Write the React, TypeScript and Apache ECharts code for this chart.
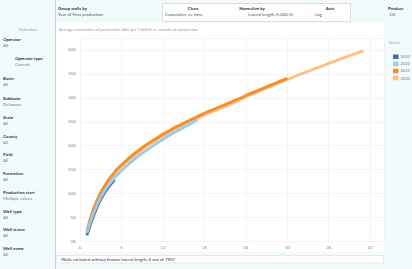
import React, { useEffect, useRef } from "react";
import * as echarts from "echarts";

// ---- data (cumulative oil per 1,000 ft, bbl) ----
const SERIES_NAMES = ["2023", "2022", "2021", "2020"];
const SERIES_COLORS = ["#3f6fa8", "#a0cbe8", "#f28e2b", "#ffbe7d"];
const MONTHS = [
  1, 2, 3, 4, 5, 6, 7, 8, 9, 10, 11, 12, 13, 14, 15, 16, 17, 18, 19, 20, 21,
  22, 23, 24, 25, 26, 27, 28, 29, 30, 31, 32, 33, 34, 35, 36, 37, 38, 39, 40, 41,
];
const V2023 = [1300, 5500, 8800, 11100, 12900];
const V2022 = [
  1800, 6000, 9200, 11500, 13300, 14800, 16100, 17300, 18400, 19400, 20400,
  21300, 22200, 23000, 23800, 24600, 25400,
];
const V2021 = [
  2200, 7000, 10200, 12600, 14500, 16000, 17300, 18500, 19600, 20600, 21500,
  22400, 23200, 24000, 24700, 25400, 26100, 26800, 27400, 28000, 28600, 29200,
  29800, 30500, 31100, 31700, 32300, 32900, 33500, 34100,
];
const V2020 = [
  1900, 6600, 9800, 12200, 14100, 15600, 16900, 18100, 19200, 20200, 21100,
  22000, 22800, 23600, 24300, 25000, 25700, 26400, 27000, 27600, 28200, 28800,
  29500, 30200, 30800, 31400, 32000, 32600, 33200, 33800, 34400, 35000, 35500,
  36100, 36600, 37200, 37700, 38300, 38800, 39300, 39800,
];
const X_TICKS = [0, 6, 12, 18, 24, 30, 36, 42];
const Y_TICKS = [0, 5000, 10000, 15000, 20000, 25000, 30000, 35000, 40000];

const FILTERS: [string, string, number][] = [
  ["Operator", "All", 3],
  ["Operator type", "Current", 15],
  ["Basin", "All", 3],
  ["Subbasin", "Delaware", 3],
  ["State", "All", 3],
  ["County", "All", 3],
  ["Field", "All", 3],
  ["Formation", "All", 3],
  ["Production start", "Multiple values", 3],
  ["Well type", "All", 3],
  ["Well status", "All", 3],
  ["Well name", "All", 3],
];
const FILTER_Y = [39, 58, 78, 98, 117, 136, 154, 173, 192, 211, 229, 248];

const FONT = "Lato, 'Open Sans', sans-serif";
const FS = 4.4;

function txt(
  text: string,
  x: number,
  y: number,
  opts: { fill?: string; bold?: boolean; align?: string; size?: number } = {}
) {
  return {
    type: "text",
    x,
    y,
    silent: true,
    z: 5,
    style: {
      text,
      fill: opts.fill || "#555",
      fontSize: opts.size || FS,
      fontFamily: FONT,
      fontWeight: opts.bold ? "bold" : "normal",
      align: opts.align || "left",
      verticalAlign: "middle",
    },
  };
}

export default function App() {
  const ref = useRef<HTMLDivElement>(null);
  useEffect(() => {
    if (!ref.current) return;
    const chart = echarts.init(ref.current, undefined, { renderer: "svg" });
    const values = [V2023, V2022, V2021, V2020];

    const graphics: any[] = [
      {
        type: "rect",
        z: -10,
        silent: true,
        shape: { x: 56, y: 23, width: 328, height: 229 },
        style: { fill: "#ffffff" },
      },
      {
        type: "line",
        z: 1,
        silent: true,
        shape: { x1: 55.5, y1: 0, x2: 55.5, y2: 269 },
        style: { stroke: "#c9d2d4", lineWidth: 1 },
      },
      {
        type: "rect",
        z: 1,
        silent: true,
        shape: { x: 162.5, y: 3.5, width: 188, height: 18 },
        style: { fill: "#ffffff", stroke: "#c8c8c8", lineWidth: 0.6 },
      },
      {
        type: "rect",
        z: 1,
        silent: true,
        shape: { x: 56.5, y: 255.5, width: 327, height: 7.5 },
        style: { fill: "#ffffff", stroke: "#d6dcdd", lineWidth: 0.6 },
      },
      txt("Group wells by", 58, 8.5, { bold: true, fill: "#333" }),
      txt("Year of First production", 58, 14.5, { fill: "#555" }),
      txt("Chart", 193, 8.5, { bold: true, fill: "#333", align: "center" }),
      txt("Cumulative vs. time", 165, 14.5),
      txt("Normalize by", 252, 8.5, { bold: true, fill: "#333", align: "center" }),
      txt("Lateral length (5,000 ft)", 248, 14.5),
      txt("Axis", 330, 8.5, { bold: true, fill: "#333", align: "center" }),
      txt("Log", 315, 14.5),
      txt("Product", 388, 8.5, { bold: true, fill: "#333" }),
      txt("Oil", 389.5, 14.5),
      txt(
        "Average cumulative oil production [bbl] per 1,000 ft vs. months on production",
        59,
        29,
        { fill: "#999", size: 4.1 }
      ),
      txt("Selection", 28, 29.5, { fill: "#999", align: "center" }),
      txt("Select", 389, 42.3, { fill: "#999", size: 4.1 }),
      txt("Wells excluded without known lateral length: 4 out of 7907", 61, 259.3, {
        fill: "#333",
      }),
    ];
    FILTERS.forEach(([label, value, x], i) => {
      graphics.push(txt(label, x, FILTER_Y[i], { bold: true, fill: "#333" }));
      graphics.push(txt(value, x, FILTER_Y[i] + 6.2, { fill: "#777" }));
    });

    // draw order: 2020, 2021, 2023, 2022 (light blue on top)
    const drawOrder = [3, 2, 0, 1];
    const series = drawOrder.map((i, k) => ({
      name: SERIES_NAMES[i],
      type: "line",
      smooth: 0.4,
      showSymbol: false,
      symbol: "none",
      data: values[i].map((v, j) => [MONTHS[j], v]),
      lineStyle: { width: 2.8, color: SERIES_COLORS[i] },
      itemStyle: { color: SERIES_COLORS[i] },
      z: 3 + k,
    }));

    chart.setOption({
      animation: false,
      backgroundColor: "#f1fbfc",
      textStyle: { fontFamily: FONT },
      grid: { left: 80, right: 28, top: 38, bottom: 27.5, containLabel: false },
      xAxis: {
        type: "value",
        min: 0,
        max: 44,
        interval: 6,
        axisLine: { show: false },
        axisTick: { show: false },
        splitLine: { show: true, lineStyle: { color: "#ececec", width: 0.6 } },
        axisLabel: {
          fontSize: FS,
          color: "#888",
          margin: 4,
          showMaxLabel: false,
          formatter: (v: number) => (X_TICKS.includes(v) ? String(v) : ""),
        },
      },
      yAxis: {
        type: "value",
        min: 0,
        max: 42500,
        interval: 5000,
        axisLine: { show: false },
        axisTick: { show: false },
        splitLine: { show: true, lineStyle: { color: "#ececec", width: 0.6 } },
        axisLabel: {
          fontSize: FS,
          color: "#888",
          margin: 4,
          showMaxLabel: false,
          formatter: (v: number) =>
            Y_TICKS.includes(v) ? `${Math.round(v / 1000)}K` : "",
        },
      },
      legend: {
        data: SERIES_NAMES,
        orient: "vertical",
        left: 388,
        top: 49.5,
        itemWidth: 5.5,
        itemHeight: 4.5,
        itemGap: 2.6,
        icon: "rect",
        selectedMode: false,
        textStyle: { fontSize: 4.1, color: "#777", padding: [0, 0, 0, -3] },
      },
      graphic: { elements: graphics },
      series,
    });
    return () => chart.dispose();
  }, []);
  return (
    <div
      ref={ref}
      style={{ position: "absolute", left: 0, top: 0, width: 412, height: 269 }}
    />
  );
}
